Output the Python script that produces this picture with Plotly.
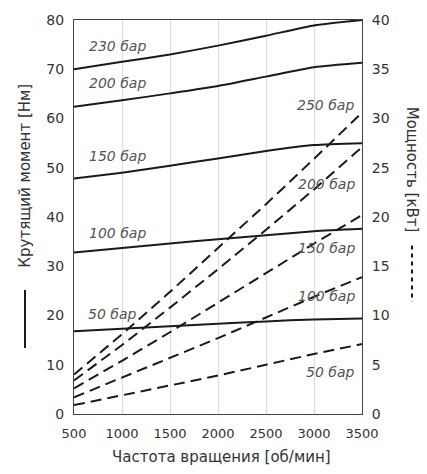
import plotly.graph_objects as go

# ---- data ----
rpm = [500, 1000, 1500, 2000, 2500, 3000, 3500]

torque_230 = [70.0, 71.5, 73.0, 74.8, 76.8, 78.9, 80.0]
torque_200 = [62.4, 63.7, 65.1, 66.6, 68.5, 70.4, 71.3]
torque_150 = [47.8, 49.0, 50.4, 51.9, 53.4, 54.6, 55.0]
torque_100 = [32.8, 33.7, 34.6, 35.5, 36.3, 37.1, 37.6]
torque_50 = [16.8, 17.3, 17.8, 18.3, 18.8, 19.2, 19.4]

power_250 = [4.0, 8.1, 12.4, 16.8, 21.3, 25.9, 30.6]
power_200 = [3.4, 7.0, 10.8, 14.7, 18.7, 22.8, 27.1]
power_150 = [2.6, 5.4, 8.3, 11.3, 14.3, 17.3, 20.2]
power_100 = [1.7, 3.7, 5.7, 7.7, 9.8, 11.9, 13.9]
power_50 = [0.9, 1.9, 2.9, 3.9, 5.0, 6.1, 7.1]

torque_series = [("230 бар", torque_230), ("200 бар", torque_200), ("150 бар", torque_150),
                 ("100 бар", torque_100), ("50 бар", torque_50)]
power_series = [("250 бар", power_250), ("200 бар", power_200), ("150 бар", power_150),
                ("100 бар", power_100), ("50 бар", power_50)]

x_ticks = [500, 1000, 1500, 2000, 2500, 3000, 3500]
y_ticks = [0, 10, 20, 30, 40, 50, 60, 70, 80]
y2_ticks = [0, 5, 10, 15, 20, 25, 30, 35, 40]

# label positions (x in rpm, y in torque-axis units)
torque_label_pos = [(948, 74.8), (948, 67.2), (948, 52.4), (958, 36.8), (896, 20.4)]
power_label_pos = [(3115, 62.8), (3125, 46.8), (3125, 33.8), (3125, 24.0), (3167, 8.6)]

fig = go.Figure()

for name, vals in torque_series:
    fig.add_trace(go.Scatter(x=rpm, y=vals, mode="lines", name=name,
                             line=dict(color="#1a1a1a", width=2, shape="spline", smoothing=0.6),
                             yaxis="y", showlegend=False, hoverinfo="skip"))

for name, vals in power_series:
    fig.add_trace(go.Scatter(x=rpm, y=vals, mode="lines", name=name,
                             line=dict(color="#1a1a1a", width=2, dash="11px,6px"),
                             yaxis="y2", showlegend=False, hoverinfo="skip"))

lab_font = dict(family="DejaVu Sans", size=14, color="#555555")
for (name, _), (lx, ly) in zip(torque_series, torque_label_pos):
    fig.add_annotation(x=lx, y=ly, xref="x", yref="y", text="<i>" + name + "</i>",
                       showarrow=False, font=lab_font, xanchor="center", yanchor="middle")
for (name, _), (lx, ly) in zip(power_series, power_label_pos):
    fig.add_annotation(x=lx, y=ly, xref="x", yref="y", text="<i>" + name + "</i>",
                       showarrow=False, font=lab_font, xanchor="center", yanchor="middle")

W, H = 427, 474
L, R, T, B = 74, 65, 14, 60
PW, PH = W - L - R, H - T - B

def px_x(p):
    return (p - L) / PW

def px_y(p):
    return (H - B - p) / PH

title_font = dict(family="DejaVu Sans", size=15, color="#333333")
# left axis title
fig.add_annotation(x=px_x(25), y=px_y(172), xref="paper", yref="paper",
                   text="Крутящий момент [Нм]", textangle=-90, showarrow=False,
                   font=title_font, xanchor="center", yanchor="middle")
fig.add_shape(type="line", xref="paper", yref="paper",
              x0=px_x(25), x1=px_x(25), y0=px_y(288), y1=px_y(347),
              line=dict(color="#1a1a1a", width=2))
# right axis title
fig.add_annotation(x=px_x(412), y=px_y(166), xref="paper", yref="paper",
                   text="Мощность [кВт]", textangle=90, showarrow=False,
                   font=title_font, xanchor="center", yanchor="middle")
fig.add_shape(type="line", xref="paper", yref="paper",
              x0=px_x(412), x1=px_x(412), y0=px_y(243), y1=px_y(300),
              line=dict(color="#1a1a1a", width=2, dash="4px,4px"))
# bottom axis title
fig.add_annotation(x=px_x(221), y=px_y(458), xref="paper", yref="paper",
                   text="Частота вращения [об/мин]", showarrow=False,
                   font=title_font, xanchor="center", yanchor="middle")

axis_common = dict(showline=True, linecolor="#444444", linewidth=1, zeroline=False,
                   ticks="", tickfont=dict(family="DejaVu Sans", size=14, color="#333333"))

fig.update_layout(
    width=W, height=H,
    margin=dict(l=L, r=R, t=T, b=B, pad=0),
    paper_bgcolor="white", plot_bgcolor="white",
    xaxis=dict(range=[500, 3500], tickvals=x_ticks, ticktext=[str(v) for v in x_ticks],
               showgrid=True, gridcolor="#dcdcdc", gridwidth=1, mirror=True,
               ticklabelstandoff=7,
               **{k: v for k, v in axis_common.items() if k != "tickfont"},
               tickfont=dict(family="DejaVu Sans", size=13, color="#333333")),
    yaxis=dict(range=[0, 80], tickvals=y_ticks, showgrid=False, mirror=False,
               ticklabelstandoff=6, **axis_common),
    yaxis2=dict(range=[0, 40], tickvals=y2_ticks, showgrid=False, overlaying="y",
                side="right", ticklabelstandoff=6, **axis_common),
)

fig.write_html("out.html")
